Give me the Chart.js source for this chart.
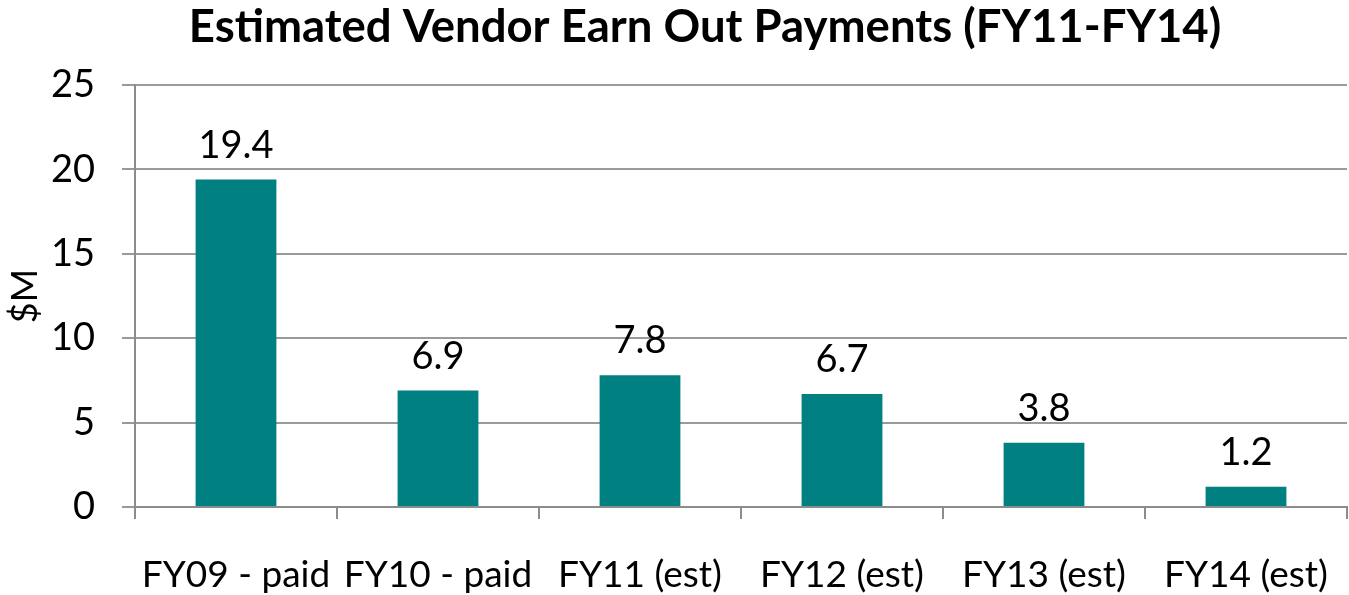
<!DOCTYPE html>
<html lang="en">
  <head>
    <meta charset="UTF-8" />
    <title>Estimated Vendor Earn Out Payments</title>
    <style>
      * { margin: 0; padding: 0; box-sizing: border-box; }
      html, body { width: 1349px; height: 595px; background: #fff; overflow: hidden; }
      .chartBox { width: 1349px; height: 595px; }
    </style>
  </head>
  <body>
    <div class="chartBox">
      <canvas id="myChart"></canvas>
    </div>

    <script src="https://cdn.jsdelivr.net/npm/chart.js"></script>
    <script>
      const titleText = "Estimated Vendor Earn Out Payments (FY11-FY14)";
      const categories = ["FY09 - paid", "FY10 - paid", "FY11 (est)", "FY12 (est)", "FY13 (est)", "FY14 (est)"];
      const payments = [19.4, 6.9, 7.8, 6.7, 3.8, 1.2];
      const yTicks = [0, 5, 10, 15, 20, 25];

      const fontFamily = "Lato, 'Open Sans', sans-serif";

      // values above the bars
      const barLabels = {
        id: "barLabels",
        afterDatasetsDraw(chart) {
          const { ctx } = chart;
          const meta = chart.getDatasetMeta(0);
          ctx.save();
          ctx.font = "38px " + fontFamily;
          ctx.fillStyle = "#000";
          ctx.textAlign = "center";
          ctx.textBaseline = "alphabetic";
          meta.data.forEach((bar, i) => {
            ctx.fillText(payments[i].toFixed(1), bar.x, bar.y - 22);
          });
          ctx.restore();
        },
      };

      // title drawn by hand so it can sit a bit right of canvas centre
      const chartTitle = {
        id: "chartTitle",
        afterDraw(chart) {
          const { ctx } = chart;
          ctx.save();
          ctx.font = "bold 45.5px " + fontFamily;
          ctx.fillStyle = "#000";
          ctx.textAlign = "center";
          ctx.textBaseline = "alphabetic";
          ctx.fillText(titleText, 705, 42);
          ctx.restore();
        },
      };

      const ctx = document.getElementById("myChart");

      new Chart(ctx, {
        type: "bar",
        data: {
          labels: categories,
          datasets: [
            {
              data: payments,
              backgroundColor: "#008080",
              borderWidth: 0,
              barPercentage: 0.4,
              categoryPercentage: 1,
            },
          ],
        },
        options: {
          responsive: true,
          maintainAspectRatio: false,
          animation: false,
          layout: { padding: { top: 85, left: 4, right: 2, bottom: 0 } },
          plugins: {
            legend: { display: false },
            tooltip: { enabled: false },
            title: { display: false },
          },
          scales: {
            x: {
              offset: true,
              afterFit: (axis) => {
                axis.height = 88;
                axis.paddingLeft = 0;
                axis.paddingRight = 0;
              },
              grid: {
                offset: true,
                drawOnChartArea: false,
                drawTicks: true,
                tickLength: 12,
                color: "#8c8c8c",
                lineWidth: 2,
              },
              border: { color: "#8c8c8c", width: 2 },
              ticks: {
                autoSkip: false,
                maxRotation: 0,
                minRotation: 0,
                padding: 34,
                color: "#000",
                font: { family: fontFamily, size: 37 },
              },
            },
            y: {
              min: yTicks[0],
              max: yTicks[yTicks.length - 1],
              afterBuildTicks: (axis) => {
                axis.ticks = yTicks.map((v) => ({ value: v }));
              },
              afterFit: (axis) => {
                axis.width = 131;
              },
              grid: {
                color: "#9a9a9a",
                lineWidth: 2,
                drawTicks: true,
                tickLength: 13,
              },
              border: { color: "#8c8c8c", width: 2 },
              ticks: {
                padding: 27,
                color: "#000",
                font: { family: fontFamily, size: 38 },
              },
              title: {
                display: true,
                text: "$M",
                color: "#000",
                padding: { top: 0, bottom: 4 },
                font: { family: fontFamily, size: 36 },
              },
            },
          },
        },
        plugins: [barLabels, chartTitle],
      });
    </script>
  </body>
</html>
